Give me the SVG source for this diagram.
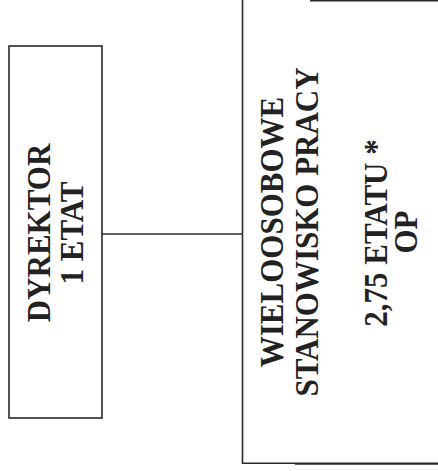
<svg xmlns="http://www.w3.org/2000/svg" width="438" height="471" viewBox="0 0 438 471">
<style>
.box{fill:#fff;stroke:#2a2a2a;stroke-width:1.6}
.ln{fill:none;stroke:#2a2a2a;stroke-width:1.6}
.t{font-family:"Liberation Serif","Times New Roman",serif;font-weight:bold;font-size:31px;fill:#222;text-anchor:middle}
</style>
<rect width="438" height="471" fill="#fff"/>
<g id="connectors">
<line class="ln" x1="102" y1="234" x2="242.5" y2="234"/>
</g>
<g id="dyrektor">
<rect class="box" x="9" y="46" width="93" height="372"/>
<text class="t" transform="translate(50,233) rotate(-90) scale(1,1.1)">DYREKTOR</text>
<text class="t" transform="translate(83,233) rotate(-90) scale(1,1.1)">1 ETAT</text>
</g>
<g id="stanowisko">
<path class="ln" d="M242.5,0 V463.3 H438"/>
<line class="ln" x1="310" y1="0.8" x2="438" y2="0.8"/>
<line class="ln" x1="295" y1="464" x2="438" y2="464" stroke-width="1"/>
<text class="t" transform="translate(283,232) rotate(-90) scale(1,1.1)">WIELOOSOBOWE</text>
<text class="t" transform="translate(318,232) rotate(-90) scale(1,1.1)">STANOWISKO PRACY</text>
<text class="t" transform="translate(387,233) rotate(-90) scale(1,1.1)">2,75 ETATU *</text>
<text class="t" transform="translate(417,232) rotate(-90) scale(1,1.1)">OP</text>
</g>
</svg>
